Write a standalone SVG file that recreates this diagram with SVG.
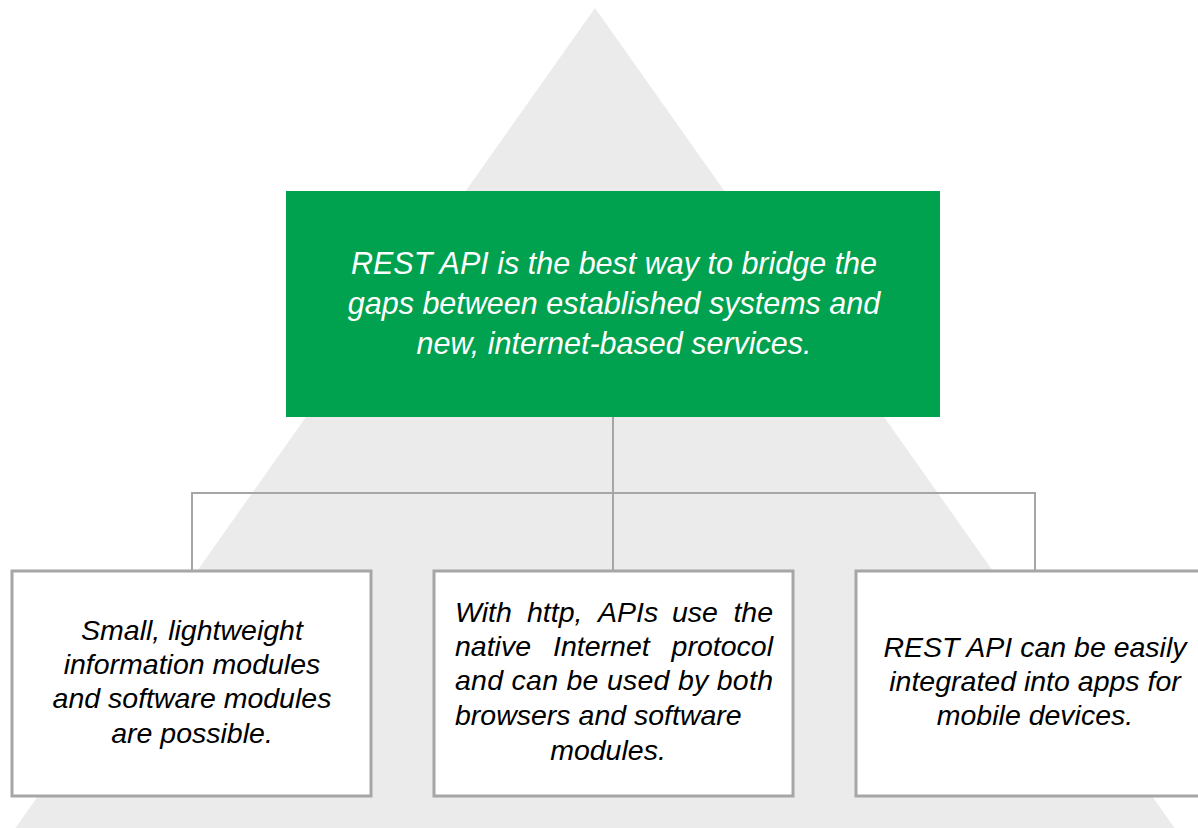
<svg xmlns="http://www.w3.org/2000/svg" width="1198" height="828" viewBox="0 0 1198 828">
<style>
.t{font-family:"Liberation Sans",Arial,sans-serif;font-style:italic;font-size:28.5px;fill:#000}
.w{fill:#fff;font-size:30.5px}
.c{text-anchor:middle}
.box{fill:#fff;stroke:#a6a6a6;stroke-width:3}
.ln{stroke:#a6a6a6;stroke-width:2;fill:none}
</style>
<polygon points="595,8 14,830 1176,830" fill="#ebebeb"/>
<g id="connectors">
<line class="ln" x1="613" y1="416" x2="613" y2="571"/>
<polyline class="ln" points="192,571 192,493 1035,493 1035,571"/>
</g>
<g id="top">
<rect x="286" y="191" width="654" height="226" fill="#00a14f"/>
<text class="t w c" x="614" y="274">REST API is the best way to bridge the</text>
<text class="t w c" x="614" y="314">gaps between established systems and</text>
<text class="t w c" x="614" y="354">new, internet-based services.</text>
</g>
<g id="left">
<rect class="box" x="12" y="571" width="359" height="225"/>
<text class="t c" x="192" y="640">Small, lightweight</text>
<text class="t c" x="192" y="674">information modules</text>
<text class="t c" x="192" y="708">and software modules</text>
<text class="t c" x="192" y="743">are possible.</text>
</g>
<g id="middle">
<rect class="box" x="434" y="571" width="359" height="225"/>
<text class="t" x="455" y="622">With</text>
<text class="t" x="527" y="622">http,</text>
<text class="t" x="598" y="622">APIs</text>
<text class="t" x="672" y="622">use</text>
<text class="t" x="773" y="622" text-anchor="end">the</text>
<text class="t" x="455" y="656">native</text>
<text class="t" x="553" y="656">Internet</text>
<text class="t" x="773" y="656" text-anchor="end">protocol</text>
<text class="t" x="455" y="690" textLength="318" lengthAdjust="spacing">and can be used by both</text>
<text class="t" x="455" y="725">browsers and software</text>
<text class="t c" x="608" y="760">modules.</text>
</g>
<g id="right">
<rect class="box" x="856" y="571" width="360" height="225"/>
<text class="t c" x="1035" y="657">REST API can be easily</text>
<text class="t c" x="1035" y="691">integrated into apps for</text>
<text class="t c" x="1035" y="725">mobile devices.</text>
</g>
</svg>
